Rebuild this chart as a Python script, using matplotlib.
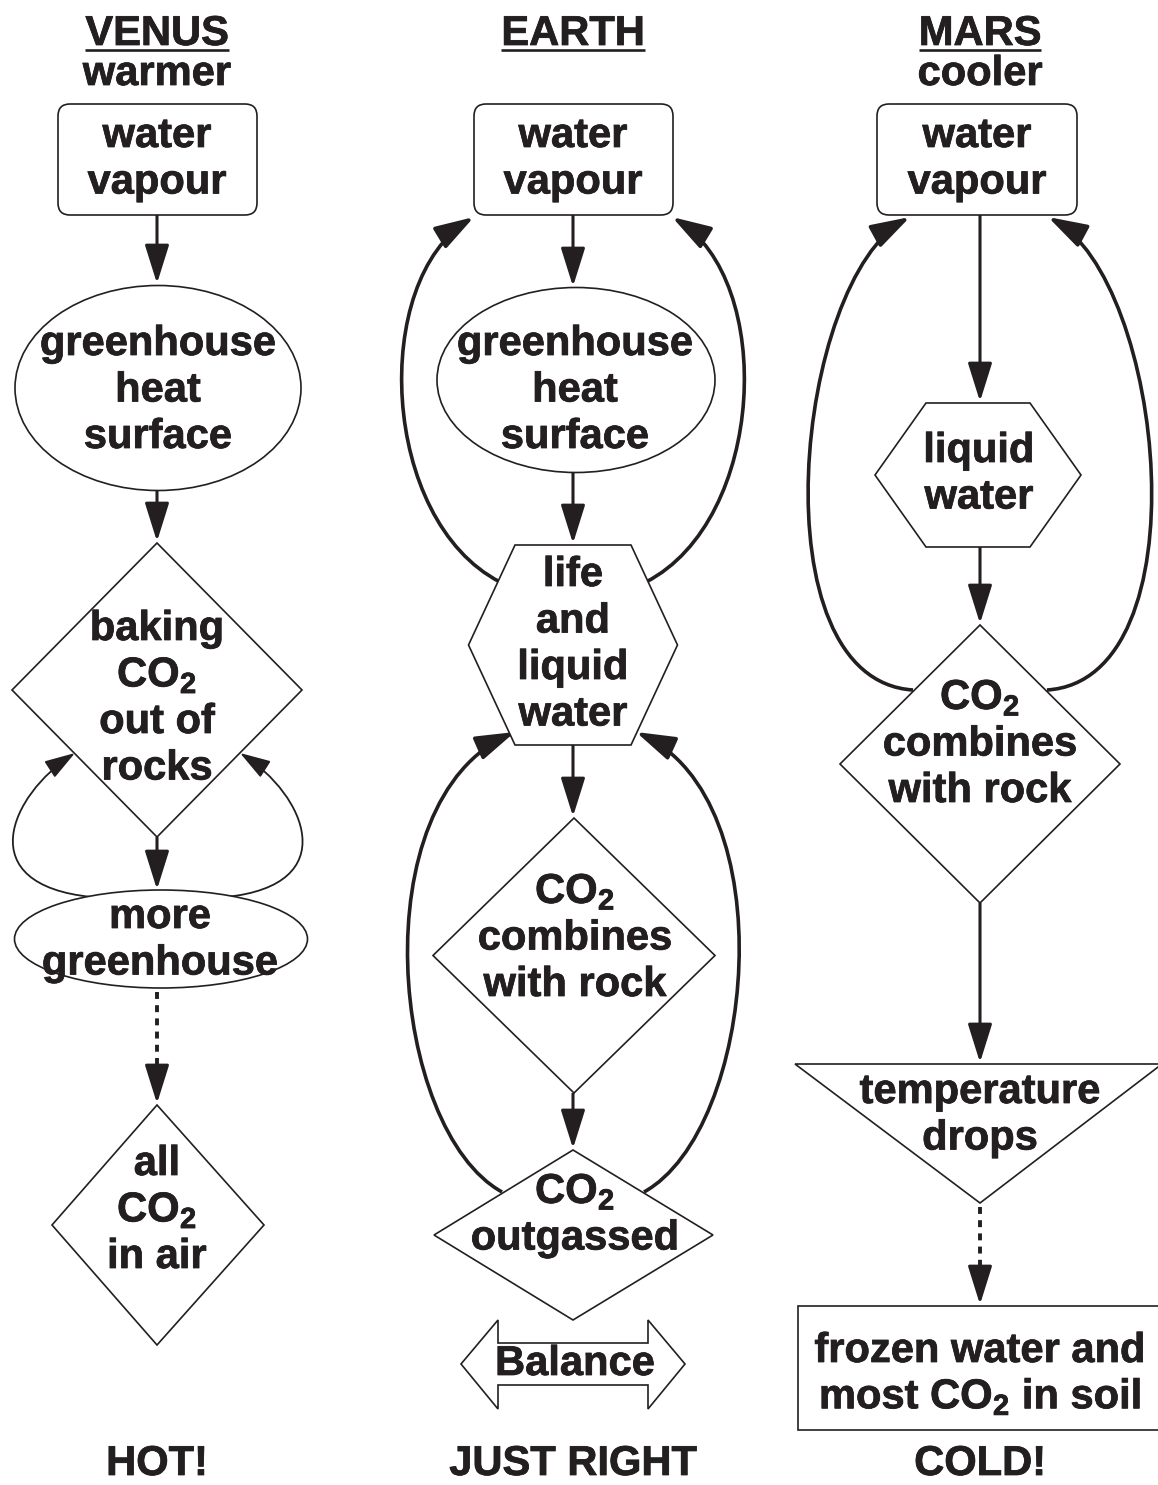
import matplotlib
matplotlib.use('Agg')
import matplotlib.pyplot as plt
import matplotlib.patheffects as pe
from matplotlib.patches import Ellipse, Polygon, Rectangle, FancyBboxPatch, FancyArrowPatch
from matplotlib.path import Path

# ---- text content ----
titles = ['VENUS', 'EARTH', 'MARS']
subtitles = ['warmer', '', 'cooler']
verdicts = ['HOT!', 'JUST RIGHT', 'COLD!']

venus_steps = [['water', 'vapour'],
               ['greenhouse', 'heat', 'surface'],
               ['baking', 'CO$_2$', 'out of', 'rocks'],
               ['more', 'greenhouse'],
               ['all', 'CO$_2$', 'in air']]
earth_steps = [['water', 'vapour'],
               ['greenhouse', 'heat', 'surface'],
               ['life', 'and', 'liquid', 'water'],
               ['CO$_2$', 'combines', 'with rock'],
               ['CO$_2$', 'outgassed']]
mars_steps = [['water', 'vapour'],
              ['liquid', 'water'],
              ['CO$_2$', 'combines', 'with rock'],
              ['temperature', 'drops'],
              ['frozen water and', 'most CO$_2$ in soil']]
balance_label = 'Balance'

# ---- style ----
plt.rcParams['font.family'] = ['Liberation Sans', 'DejaVu Sans']
plt.rcParams['font.weight'] = 'bold'
plt.rcParams['mathtext.fontset'] = 'custom'
plt.rcParams['mathtext.rm'] = 'Liberation Sans:bold'
plt.rcParams['mathtext.it'] = 'Liberation Sans:bold'
plt.rcParams['mathtext.bf'] = 'Liberation Sans:bold'
plt.rcParams['lines.scale_dashes'] = False

INK = '#231f20'
FS = 30
STEP = 46.5
EDGE = 1.2
HEAD = '-|>,head_length=24,head_width=7.5'
HEAD_S = '-|>,head_length=19,head_width=6'
BOLDER = [pe.withStroke(linewidth=0.55, foreground=INK)]

fig = plt.figure(figsize=(11.58, 14.85), dpi=100)
ax = fig.add_axes([0, 0, 1, 1])
ax.set_xlim(0, 1158)
ax.set_ylim(1485, 0)
ax.axis('off')


def txt(x, y, s):
    return ax.text(x, y, s, ha='center', va='baseline', fontsize=FS, color=INK,
                   zorder=6, path_effects=BOLDER)


def label(x, base, lines):
    for i, s in enumerate(lines):
        txt(x, base + i * STEP, s)


def shape(p):
    p.set_facecolor('white')
    p.set_edgecolor(INK)
    p.set_linewidth(EDGE)
    p.set_zorder(4)
    ax.add_patch(p)


def box(x0, x1, y0, y1):
    shape(FancyBboxPatch((x0, y0), x1 - x0, y1 - y0, boxstyle='round,pad=0,rounding_size=12'))


def diamond(cx, top, bot, left, right):
    cy = (top + bot) / 2
    shape(Polygon([(cx, top), (right, cy), (cx, bot), (left, cy)]))


def hexagon(cx, top, bot, half_top, half_mid):
    cy = (top + bot) / 2
    shape(Polygon([(cx - half_top, top), (cx + half_top, top), (cx + half_mid, cy),
                   (cx + half_top, bot), (cx - half_top, bot), (cx - half_mid, cy)]))


def arrow(x, y0, y1, dotted=False):
    if dotted:
        ax.plot([x, x], [y0 + 4, y1 - 34], color=INK, lw=2.8, dashes=(5, 4.5),
                solid_capstyle='butt', dash_capstyle='butt', zorder=3)
        y0 = y1 - 34
    ax.add_patch(FancyArrowPatch((x, y0), (x, y1), arrowstyle=HEAD, mutation_scale=1,
                                 lw=2.2, color=INK, shrinkA=0, shrinkB=1,
                                 joinstyle='round', capstyle='butt', zorder=3))


def loop(pts, lw=2.6, style=HEAD):
    path = Path(pts, [Path.MOVETO, Path.CURVE4, Path.CURVE4, Path.CURVE4])
    ax.add_patch(FancyArrowPatch(path=path, arrowstyle=style, mutation_scale=1, lw=lw,
                                 color=INK, joinstyle='round', capstyle='butt', zorder=2))


# ---- headers ----
cols = [157, 573, 980]
for cx, t, s, v in zip(cols, titles, subtitles, verdicts):
    tt = txt(cx, 45, t)
    if s:
        txt(cx, 85, s)
    txt(cx, 1475, v)
    fig.canvas.draw()
    bb = tt.get_window_extent().transformed(ax.transData.inverted())
    ax.plot([bb.x0, bb.x1], [49.5, 49.5], color=INK, lw=1.9, solid_capstyle='butt')

# ---- VENUS ----
box(58, 257, 104, 215)
label(157, 147, venus_steps[0])
arrow(157, 215, 285)
shape(Ellipse((158, 388), 286, 205))
label(158, 355, venus_steps[1])
arrow(157, 490, 543)
diamond(157, 543, 837, 12, 302)
label(157, 640, venus_steps[2])
arrow(157, 837, 891)
shape(Ellipse((161, 939), 293, 98))
label(160, 928, venus_steps[3])
loop([(92, 897), (-30, 885), (10, 795), (75, 753)], lw=1.3, style=HEAD_S)
loop([(226, 897), (344, 885), (306, 795), (240, 753)], lw=1.3, style=HEAD_S)
arrow(157, 988, 1105, dotted=True)
diamond(157, 1105, 1345, 52, 264)
label(157, 1175, venus_steps[4])

# ---- EARTH ----
box(474, 673, 104, 215)
label(573, 147, earth_steps[0])
arrow(573, 215, 288)
shape(Ellipse((576, 380), 278, 185))
label(575, 355, earth_steps[1])
arrow(573, 473, 545)
hexagon(573, 545, 745, 58, 104.5)
label(573, 586, earth_steps[2])
arrow(573, 745, 818)
diamond(574, 818, 1093, 433, 715)
label(575, 903, earth_steps[3])
arrow(573, 1093, 1150)
diamond(573, 1150, 1320, 434, 713)
label(575, 1203, earth_steps[4])
loop([(500, 582), (380, 520), (370, 280), (474, 217)])
loop([(646, 582), (766, 520), (776, 280), (672, 217)])
loop([(502, 1192), (390, 1130), (360, 800), (515, 732)])
loop([(644, 1192), (756, 1130), (786, 800), (636, 732)])
shape(Polygon([(461, 1364), (498, 1320), (498, 1343), (648, 1343), (648, 1320),
               (685, 1364), (648, 1409), (648, 1385), (498, 1385), (498, 1409)]))
txt(575, 1375, balance_label)

# ---- MARS ----
box(877, 1077, 104, 215)
label(977, 147, mars_steps[0])
arrow(980, 215, 403)
hexagon(978, 403, 547, 52, 103)
label(979, 462, mars_steps[1])
arrow(980, 547, 625)
diamond(980, 625, 903, 840, 1120)
label(980, 709, mars_steps[2])
loop([(913, 690), (755, 680), (795, 280), (910, 217)])
loop([(1047, 690), (1205, 680), (1165, 280), (1048, 217)])
arrow(980, 903, 1064)
shape(Polygon([(795, 1064), (1162, 1064), (980, 1203)]))
label(980, 1103, mars_steps[3])
arrow(980, 1203, 1306, dotted=True)
shape(Rectangle((798, 1306), 364, 124))
label(980, 1362, mars_steps[4])

fig.savefig('out.png', dpi=100)
